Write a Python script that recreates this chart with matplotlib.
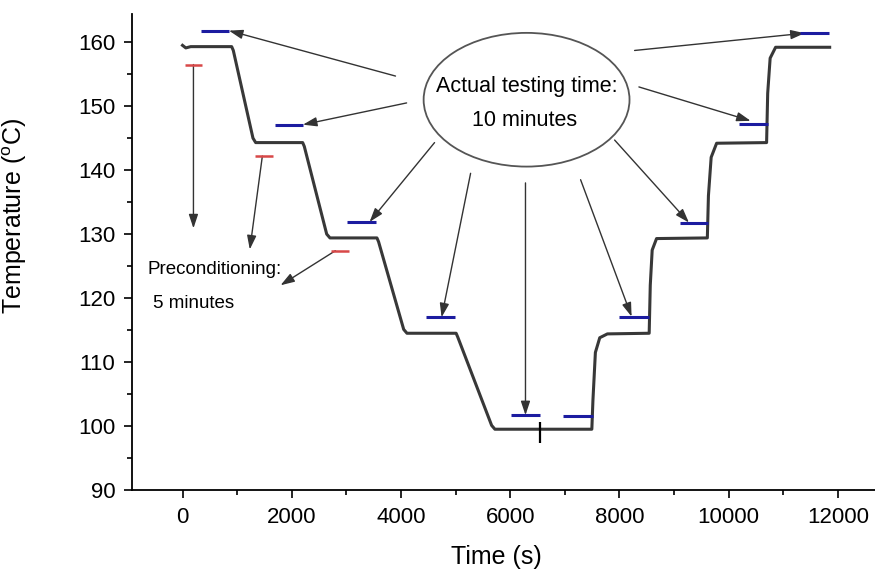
import matplotlib
matplotlib.use('Agg')
import matplotlib.pyplot as plt
from matplotlib.patches import Ellipse

plt.rcParams['font.family'] = ['Liberation Sans', 'DejaVu Sans']
plt.rcParams['mathtext.fontset'] = 'custom'
plt.rcParams['mathtext.rm'] = 'Liberation Sans'

# measured oven temperature profile (s, degC)
time = [0, 60, 150, 900, 930, 1290, 1340, 2200, 2230, 2640, 2700, 3560, 3590,
        4050, 4110, 5010, 5040, 5660, 5720, 7495, 7515, 7560, 7640, 7780, 8545,
        8565, 8600, 8680, 9610, 9630, 9680, 9780, 10695, 10715, 10760, 10860, 11850]
temp = [159.5, 159.1, 159.3, 159.3, 158.7, 145.0, 144.3, 144.3, 143.7, 130.0, 129.4,
        129.4, 128.8, 115.1, 114.5, 114.5, 113.9, 100.1, 99.5, 99.5, 104.0, 111.5,
        113.8, 114.4, 114.5, 122.0, 127.5, 129.3, 129.4, 136.0, 142.0, 144.2, 144.3,
        152.0, 157.5, 159.2, 159.2]

# testing windows (blue) and preconditioning windows (red)
test_start = [330, 1690, 3010, 4460, 6015, 6965, 7995, 9105, 10195, 11305]
test_end = [850, 2205, 3550, 4995, 6555, 7510, 8545, 9620, 10725, 11840]
test_temp = [161.8, 147.1, 131.9, 117.0, 101.7, 101.5, 117.1, 131.8, 147.2, 161.4]

pre_start = [40, 1320, 2725]
pre_end = [360, 1660, 3040]
pre_temp = [156.5, 142.2, 127.4]

fig = plt.figure(figsize=(8.75, 5.75), dpi=100)
ax = fig.add_axes([132 / 875, 85 / 575, 743 / 875, 476 / 575])

ax.plot(time, temp, color='#383838', lw=2.2, zorder=3)
ax.hlines(test_temp, test_start, test_end, color='#1c1ca0', lw=2.2, zorder=4)
ax.hlines(pre_temp, pre_start, pre_end, color='#d84848', lw=1.8, zorder=4)
ax.vlines(6550, 97.4, 100.7, color='black', lw=1.6, zorder=4)

# callout bubble
ax.add_patch(Ellipse((6300, 151.0), 3770, 20.9, fill=False, ec='#555555', lw=1.3))
ax.text(6300, 153.0, 'Actual testing time:', ha='center', va='center', fontsize=15.5)
ax.text(6265, 147.7, '10 minutes', ha='center', va='center', fontsize=15.5)

arrow = dict(arrowstyle='-|>,head_length=0.6,head_width=0.2', mutation_scale=14,
             color='#333333', lw=1, shrinkA=0, shrinkB=0)

# (tail, tip) for each testing-window arrow
test_arrows = [((3900, 154.7), (850, 161.8)),
               ((4103, 150.5), (2205, 147.1)),
               ((4615, 144.3), (3425, 131.9)),
               ((5275, 139.5), (4744, 117.0)),
               ((6280, 138.0), (6280, 101.7)),
               ((7289, 138.5), (8223, 117.1)),
               ((7912, 144.7), (9273, 131.8)),
               ((8357, 153.0), (10403, 147.7)),
               ((8278, 158.7), (11392, 161.4))]
for tail, tip in test_arrows:
    ax.annotate('', xy=tip, xytext=tail, arrowprops=arrow)

pre_arrows = [((200, 156.5), (200, 130.9)),
              ((1462, 142.2), (1232, 127.6)),
              ((2799, 127.4), (1795, 122.0))]
for tail, tip in pre_arrows:
    ax.annotate('', xy=tip, xytext=tail, arrowprops=arrow)

ax.text(-650, 124.4, 'Preconditioning:', ha='left', va='center', fontsize=13.5)
ax.text(-540, 119.2, '5 minutes', ha='left', va='center', fontsize=13.5)

ax.set_xlim(-925, 12680)
ax.set_ylim(90, 164.4)
ax.set_xticks(range(0, 12001, 2000))
ax.set_xticks(range(1000, 12001, 2000), minor=True)
ax.set_yticks(range(90, 161, 10))
ax.set_yticks(range(95, 161, 10), minor=True)

for side in ['top', 'right']:
    ax.spines[side].set_visible(False)
for side in ['left', 'bottom']:
    ax.spines[side].set_linewidth(1.3)
ax.tick_params(which='major', direction='out', length=6, width=1.2, labelsize=16, pad=6)
ax.tick_params(which='minor', direction='out', length=3.5, width=1.2)

ax.set_xlabel('Time (s)', fontsize=18)
ax.set_ylabel('Temperature ($^{\\mathrm{o}}$C)', fontsize=18)
ax.xaxis.set_label_coords(0.49, -0.115)
ax.yaxis.set_label_coords(-0.138, 0.575)

fig.savefig('out.png', dpi=100)
